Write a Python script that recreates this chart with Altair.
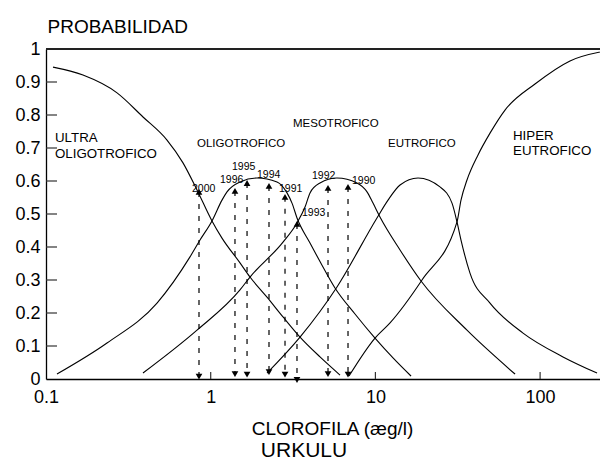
import altair as alt
import pandas as pd

FONT = "Liberation Sans"

# ---- curve data (chlorophyll, probability) ----
ultra_x = [0.1103, 0.1677, 0.2700, 0.3881, 0.5429, 0.6788, 0.8257, 1.018, 1.171, 1.506, 1.732, 2.197, 2.748, 3.485, 4.609, 6.098]
ultra_y = [0.945, 0.921, 0.867, 0.794, 0.724, 0.655, 0.573, 0.479, 0.427, 0.352, 0.309, 0.248, 0.188, 0.127, 0.067, 0.012]

oligo_x = [0.1166, 0.2346, 0.4721, 0.7487, 0.8610, 1.018, 1.171, 1.256, 1.506, 1.910, 2.527, 2.906, 3.116, 3.342, 4.008, 4.741, 5.684, 7.518, 9.945, 12.79, 16.45]
oligo_y = [0.015, 0.109, 0.230, 0.370, 0.421, 0.479, 0.542, 0.567, 0.597, 0.609, 0.597, 0.564, 0.533, 0.488, 0.412, 0.345, 0.276, 0.197, 0.124, 0.064, 0.009]

meso_x = [0.3880, 0.8257, 1.506, 1.732, 2.748, 3.342, 3.738, 4.008, 4.609, 5.845, 7.731, 8.892, 9.670, 10.66, 14.11, 18.92, 35.98, 70.41]
meso_y = [0.018, 0.148, 0.270, 0.309, 0.415, 0.473, 0.521, 0.564, 0.594, 0.609, 0.594, 0.567, 0.533, 0.491, 0.391, 0.297, 0.148, 0.015]

eutro_x = [2.197, 3.485, 5.845, 10.22, 11.93, 14.11, 18.14, 24.67, 29.18, 31.29, 33.09, 37.52, 49.64, 78.76, 137.7, 221.6]
eutro_y = [0.018, 0.127, 0.279, 0.488, 0.542, 0.588, 0.609, 0.582, 0.533, 0.476, 0.421, 0.321, 0.230, 0.139, 0.067, 0.018]

hyper_x = [6.915, 9.945, 12.27, 19.18, 31.29, 33.09, 35.98, 41.98, 49.64, 61.22, 93.11, 151.9, 254.8]
hyper_y = [0.009, 0.124, 0.170, 0.300, 0.476, 0.542, 0.603, 0.679, 0.745, 0.815, 0.894, 0.964, 0.995]

# ---- yearly observations ----
years = ["2000", "1996", "1995", "1994", "1991", "1993", "1992", "1990"]
year_x = [0.849, 1.404, 1.662, 2.259, 2.826, 3.341, 5.155, 6.818]
year_p = [0.567, 0.570, 0.594, 0.585, 0.552, 0.470, 0.579, 0.582]
arrow_p = [0.007, 0.015, 0.013, 0.021, 0.013, -0.003, 0.015, 0.013]
ylab_x = [0.770, 1.139, 1.347, 1.910, 2.598, 3.584, 4.122, 7.210]
ylab_p = [0.567, 0.594, 0.633, 0.609, 0.567, 0.494, 0.606, 0.591]

# ---- class labels ----
class_text = ["ULTRA", "OLIGOTROFICO", "OLIGOTROFICO", "MESOTROFICO", "EUTROFICO", "HIPER", "EUTROFICO"]
class_x = [0.1134, 0.1134, 0.8257, 3.160, 11.93, 68.47, 68.47]
class_p = [0.718, 0.670, 0.703, 0.764, 0.703, 0.724, 0.679]
class_fs = [13.3, 13.3, 11.5, 11.5, 11.5, 13.3, 13.3]

y_ticks = [0, 0.1, 0.2, 0.3, 0.4, 0.5, 0.6, 0.7, 0.8, 0.9, 1]
x_ticks = [0.1, 1, 10, 100]

W, H = 554, 330

rows = []
for name, xs, ys in [("ultra", ultra_x, ultra_y), ("oligo", oligo_x, oligo_y),
                     ("meso", meso_x, meso_y), ("eutro", eutro_x, eutro_y),
                     ("hyper", hyper_x, hyper_y)]:
    for i, (a, b) in enumerate(zip(xs, ys)):
        rows.append({"curve": name, "x": a, "y": b, "o": i})
curves = pd.DataFrame(rows)

obs = pd.DataFrame({"year": years, "x": year_x, "y": year_p, "y2": arrow_p})
arrows = pd.DataFrame({"x": year_x, "y": arrow_p})
ylabs = pd.DataFrame({"year": years, "x": ylab_x, "y": ylab_p})
classes = pd.DataFrame({"t": class_text, "x": class_x, "y": class_p, "fs": class_fs})

xscale = alt.Scale(type="log", domain=[0.1, 231.0], nice=False)
yscale = alt.Scale(domain=[0, 1], nice=False)

xaxis = alt.Axis(values=x_ticks, format="~g", ticks=False, grid=False,
                 domainColor="black", domainWidth=1.3, labelFlush=False, labelOverlap=False,
                 labelFontSize=18, labelFont=FONT, labelColor="black", labelPadding=9,
                 title="CLOROFILA (æg/l)", titleFont=FONT, titleFontSize=19,
                 titleFontWeight="normal", titleColor="black",
                 titleX=286, titleY=55, titleAlign="center", titleBaseline="alphabetic")
yaxis = alt.Axis(values=y_ticks, format="~g", ticks=False, grid=False,
                 domainColor="black", domainWidth=1.3, labelOverlap=False,
                 labelFontSize=18, labelFont=FONT, labelColor="black", labelPadding=6,
                 title="PROBABILIDAD", titleFont=FONT, titleFontSize=19,
                 titleFontWeight="normal", titleColor="black", titleAngle=0,
                 titleX=1, titleY=-17, titleAlign="left", titleBaseline="alphabetic")

X = alt.X("x:Q", scale=xscale, axis=xaxis)
Y = alt.Y("y:Q", scale=yscale, axis=yaxis)

lines = alt.Chart(curves).mark_line(color="black", strokeWidth=1.1, interpolate="monotone", clip=True).encode(
    x=X, y=Y, detail="curve:N", order="o:Q")

top = alt.Chart(pd.DataFrame({"y": [1]})).mark_rule(color="#222", strokeWidth=2).encode(y=Y)

yt = alt.Chart(pd.DataFrame({"y": y_ticks[1:-1]})).mark_rule(color="#333", strokeWidth=1.2).encode(
    y=Y, x=alt.value(0), x2=alt.value(11))
xt = alt.Chart(pd.DataFrame({"x": x_ticks[1:]})).mark_rule(color="#333", strokeWidth=1.2).encode(
    x=X, y=alt.value(H - 7), y2=alt.value(H))

dashes = alt.Chart(obs).mark_rule(color="black", strokeWidth=1.2, strokeDash=[5, 7]).encode(
    x=X, y=Y, y2="y2:Q")
up = alt.Chart(obs).mark_point(shape="triangle-up", filled=True, size=45, color="black", opacity=1).encode(
    x=X, y=Y)
down = alt.Chart(arrows).mark_point(shape="triangle-down", filled=True, size=45, color="black", opacity=1).encode(
    x=X, y=Y)
yl = alt.Chart(ylabs).mark_text(font=FONT, fontSize=10.5, align="left", baseline="alphabetic", color="black").encode(
    x=X, y=Y, text="year:N")
cl = alt.Chart(classes).mark_text(font=FONT, align="left", baseline="alphabetic", color="black").encode(
    x=X, y=Y, text="t:N", size=alt.Size("fs:Q", scale=None))
lake = alt.Chart(pd.DataFrame({"t": ["URKULU"]})).mark_text(
    font=FONT, fontSize=21, align="center", baseline="alphabetic", color="black").encode(
    text="t:N", x=alt.value(258), y=alt.value(408))

chart = alt.layer(lines, top, yt, xt, dashes, up, down, yl, cl, lake).properties(
    width=W, height=H,
    padding={"left": 38, "top": 41, "right": 0, "bottom": 84},
    autosize=alt.AutoSizeParams(type="none"),
).configure_view(stroke=None)

chart.save("out.html", embed_options={"renderer": "svg", "actions": False})
